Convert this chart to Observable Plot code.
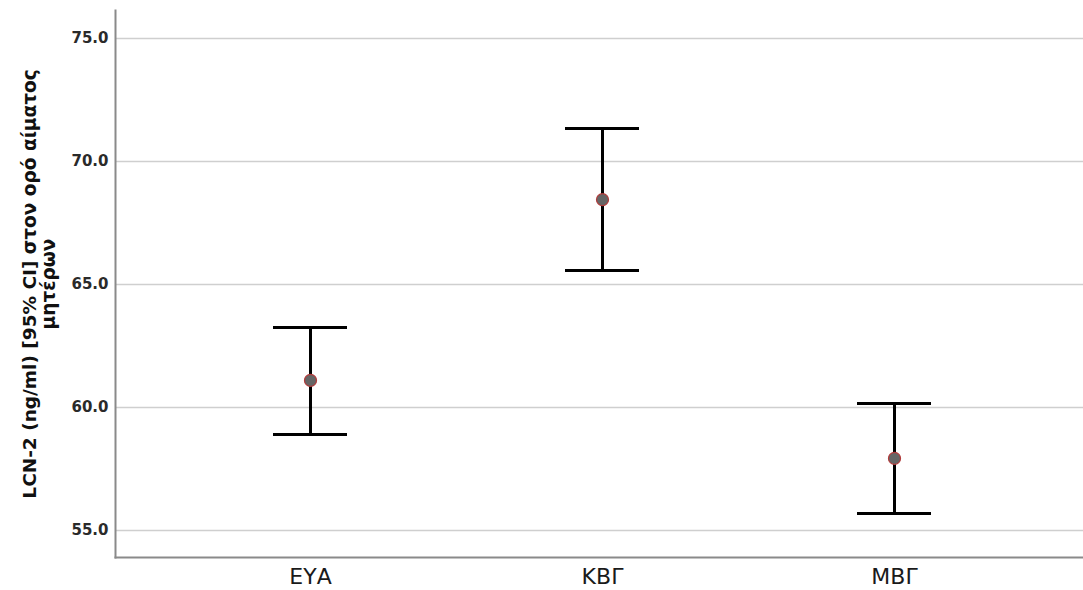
<!DOCTYPE html>
<html>
<head>
<meta charset="utf-8">
<script src="https://cdn.jsdelivr.net/npm/d3@7"></script>
<script src="https://cdn.jsdelivr.net/npm/@observablehq/plot@0.6"></script>
<style>
  html, body { margin: 0; padding: 0; background: #fff; }
</style>
</head>
<body>
<div id="chart"></div>
<script>
// Group means of maternal serum LCN-2 with 95% confidence intervals
const groups = ["ΕΥΑ", "ΚΒΓ", "ΜΒΓ"];
const means = [61.10, 68.45, 57.93];
const lower = [58.90, 65.57, 55.69];
const upper = [63.25, 71.34, 60.16];
const yTicks = [55, 60, 65, 70, 75];
const yLabelLines = ["LCN-2 (ng/ml) [95% CI] στον ορό αίματος", "μητέρων"];

const rows = groups.map((g, i) => ({group: g, mean: means[i], lo: lower[i], hi: upper[i]}));

const chart = Plot.plot({
  width: 1083,
  height: 590,
  marginLeft: 115,
  marginRight: 0,
  marginTop: 10,
  marginBottom: 33,
  style: {fontFamily: "'DejaVu Sans', sans-serif", background: "#fff"},
  x: {domain: groups, paddingInner: 0.747, paddingOuter: 0.528, align: 0.511},
  y: {domain: [53.9, 76.14]},
  marks: [
    Plot.gridY(yTicks, {stroke: "#cfcfcf", strokeOpacity: 1, strokeWidth: 1.5}),
    Plot.frame({anchor: "left", stroke: "#8a8a8a", strokeWidth: 2}),
    Plot.frame({anchor: "bottom", stroke: "#8a8a8a", strokeWidth: 2}),
    Plot.axisY(yTicks, {
      tickSize: 0, tickPadding: 7, label: null,
      tickFormat: d3.format(".1f"),
      fontSize: 15, fontWeight: "bold", fill: "#2a2a2a"
    }),
    Plot.axisX({
      tickSize: 0, tickPadding: 11, label: null,
      fontSize: 22, fill: "#1a1a1a"
    }),
    Plot.text([yLabelLines.join("\n")], {
      frameAnchor: "left", textAnchor: "middle", rotate: -90, dx: -76, lineHeight: 1.0,
      text: d => d, fontSize: 18.5, fontWeight: "bold", fill: "#111"
    }),
    Plot.ruleX(rows, {x: "group", y1: "lo", y2: "hi", stroke: "#000", strokeWidth: 3}),
    Plot.tickY(rows, {x: "group", y: "hi", stroke: "#000", strokeWidth: 3}),
    Plot.tickY(rows, {x: "group", y: "lo", stroke: "#000", strokeWidth: 3}),
    Plot.dot(rows, {x: "group", y: "mean", r: 6, fill: "#666", stroke: "#b23a3a", strokeWidth: 1.2})
  ]
});

document.getElementById("chart").appendChild(chart);
</script>
</body>
</html>
